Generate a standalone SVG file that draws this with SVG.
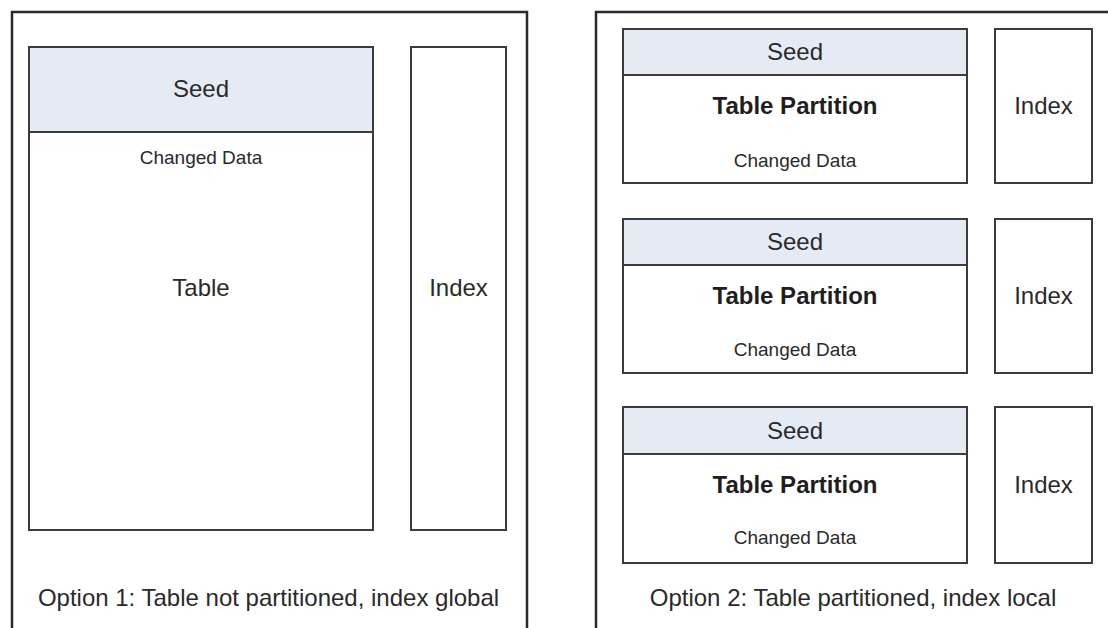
<svg xmlns="http://www.w3.org/2000/svg" width="1108" height="628" viewBox="0 0 1108 628">
  <style>
    .frame { fill: #ffffff; stroke: #2a2a2a; stroke-width: 2.5; }
    .box { fill: #ffffff; stroke: #3c3c3c; stroke-width: 2; }
    .seed { fill: #e5ebf5; stroke: #3c3c3c; stroke-width: 2; }
    text { font-family: "Liberation Sans", Arial, sans-serif; fill: #2a2a2a; text-anchor: middle; }
    .lg { font-size: 24px; }
    .b { font-size: 24px; font-weight: bold; fill: #1e1e1e; }
    .sm { font-size: 19px; }
  </style>
  <rect width="1108" height="628" fill="#ffffff"/>

  <g id="option1">
    <rect class="frame" x="12" y="12" width="515" height="640"/>
    <g id="table1">
      <rect class="box" x="29" y="47" width="344" height="483"/>
      <rect class="seed" x="29" y="47" width="344" height="85"/>
      <text class="lg" x="201" y="97">Seed</text>
      <text class="sm" x="201" y="164">Changed Data</text>
      <text class="lg" x="201" y="296">Table</text>
    </g>
    <g id="index1">
      <rect class="box" x="411" y="47" width="95" height="483"/>
      <text class="lg" x="458.5" y="296">Index</text>
    </g>
    <text class="lg" x="268.5" y="606">Option 1: Table not partitioned, index global</text>
  </g>

  <g id="option2">
    <rect class="frame" x="596" y="12" width="540" height="640"/>
    <g id="partition1">
      <rect class="box" x="623" y="29" width="344" height="154"/>
      <rect class="seed" x="623" y="29" width="344" height="46"/>
      <text class="lg" x="795" y="60">Seed</text>
      <text class="b" x="795" y="114">Table Partition</text>
      <text class="sm" x="795" y="167">Changed Data</text>
    </g>
    <g id="index-p1">
      <rect class="box" x="995" y="29" width="97" height="154"/>
      <text class="lg" x="1043.5" y="114">Index</text>
    </g>
    <g id="partition2">
      <rect class="box" x="623" y="219" width="344" height="154"/>
      <rect class="seed" x="623" y="219" width="344" height="46"/>
      <text class="lg" x="795" y="250">Seed</text>
      <text class="b" x="795" y="304">Table Partition</text>
      <text class="sm" x="795" y="356">Changed Data</text>
    </g>
    <g id="index-p2">
      <rect class="box" x="995" y="219" width="97" height="154"/>
      <text class="lg" x="1043.5" y="304">Index</text>
    </g>
    <g id="partition3">
      <rect class="box" x="623" y="407" width="344" height="156"/>
      <rect class="seed" x="623" y="407" width="344" height="47"/>
      <text class="lg" x="795" y="439">Seed</text>
      <text class="b" x="795" y="493">Table Partition</text>
      <text class="sm" x="795" y="544">Changed Data</text>
    </g>
    <g id="index-p3">
      <rect class="box" x="995" y="407" width="97" height="156"/>
      <text class="lg" x="1043.5" y="493">Index</text>
    </g>
    <text class="lg" x="853" y="606">Option 2: Table partitioned, index local</text>
  </g>

  <g id="connectors"/>
</svg>
